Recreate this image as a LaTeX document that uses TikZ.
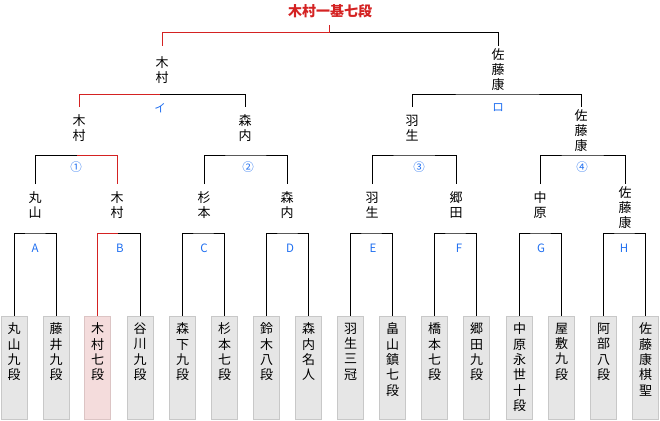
\documentclass[tikz,border=0pt]{standalone}
\usepackage{fontspec}
\newfontfamily\cjk{Noto Sans CJK JP}
\definecolor{wred}{HTML}{D42222}
\definecolor{wblue}{HTML}{1E6EF0}
\definecolor{boxfill}{HTML}{E6E6E6}
\definecolor{boxline}{HTML}{C8C8C8}
\definecolor{pinkfill}{HTML}{F4DCDC}
\definecolor{pinkline}{HTML}{DCC4C4}
\begin{document}
\begin{tikzpicture}[x=1pt,y=-1pt,line width=1pt,
  pbox/.style={draw=boxline,fill=boxfill,minimum width=26pt,minimum height=103pt,anchor=north,inner sep=0pt},
  pboxwin/.style={pbox,draw=pinkline,fill=pinkfill},
  ptext/.style={anchor=north,inner sep=0pt,font=\cjk\fontsize{13}{15.3}\selectfont,align=center},
  pname/.style={inner sep=0pt,font=\cjk\fontsize{13}{15}\selectfont,align=center},
  plab/.style={inner sep=0pt,text=wblue,font=\cjk\fontsize{11.5}{13}\selectfont},
  win/.style={draw=wred}]
\useasboundingbox (0,0) rectangle (660,420);

% ---- bottom player boxes
\node[pbox]    (b1)  at (14,315.5)  {};
\node[pbox]    (b2)  at (56,315.5)  {};
\node[pboxwin] (b3)  at (97.5,315.5) {};
\node[pbox]    (b4)  at (140,315.5) {};
\node[pbox]    (b5)  at (182.5,315.5) {};
\node[pbox]    (b6)  at (224.5,315.5) {};
\node[pbox]    (b7)  at (266.5,315.5) {};
\node[pbox]    (b8)  at (308.5,315.5) {};
\node[pbox]    (b9)  at (350.5,315.5) {};
\node[pbox]    (b10) at (392.5,315.5) {};
\node[pbox]    (b11) at (434.5,315.5) {};
\node[pbox]    (b12) at (476.5,315.5) {};
\node[pbox]    (b13) at (519.5,315.5) {};
\node[pbox]    (b14) at (561.5,315.5) {};
\node[pbox]    (b15) at (603.5,315.5) {};
\node[pbox]    (b16) at (645.5,315.5) {};

\node[ptext] (t1)  at ([yshift=-7pt]b1.north)  {丸\\山\\九\\段};
\node[ptext] (t2)  at ([yshift=-7pt]b2.north)  {藤\\井\\九\\段};
\node[ptext] (t3)  at ([yshift=-7pt]b3.north)  {木\\村\\七\\段};
\node[ptext] (t4)  at ([yshift=-7pt]b4.north)  {谷\\川\\九\\段};
\node[ptext] (t5)  at ([yshift=-7pt]b5.north)  {森\\下\\九\\段};
\node[ptext] (t6)  at ([yshift=-7pt]b6.north)  {杉\\本\\七\\段};
\node[ptext] (t7)  at ([yshift=-7pt]b7.north)  {鈴\\木\\八\\段};
\node[ptext] (t8)  at ([yshift=-7pt]b8.north)  {森\\内\\名\\人};
\node[ptext] (t9)  at ([yshift=-7pt]b9.north)  {羽\\生\\三\\冠};
\node[ptext] (t10) at ([yshift=-7pt]b10.north) {畠\\山\\鎮\\七\\段};
\node[ptext] (t11) at ([yshift=-7pt]b11.north) {橋\\本\\七\\段};
\node[ptext] (t12) at ([yshift=-7pt]b12.north) {郷\\田\\九\\段};
\node[ptext] (t13) at ([yshift=-7pt]b13.north) {中\\原\\永\\世\\十\\段};
\node[ptext] (t14) at ([yshift=-7pt]b14.north) {屋\\敷\\九\\段};
\node[ptext] (t15) at ([yshift=-7pt]b15.north) {阿\\部\\八\\段};
\node[ptext] (t16) at ([yshift=-7pt]b16.north) {佐\\藤\\康\\棋\\聖};

% ---- round 1 brackets
\coordinate (jA) at (35,233);
\coordinate (jB) at (118,233);
\coordinate (jC) at (203.5,233);
\coordinate (jD) at (287.5,233);
\coordinate (jE) at (371.5,233);
\coordinate (jF) at (455.5,233);
\coordinate (jG) at (540.5,233);
\coordinate (jH) at (624.5,233);
\draw (b1.north) |- (jA) -| (b2.north);
\draw[win] (b3.north) |- (jB);
\draw (jB) -| (b4.north);
\draw (b5.north) |- (jC) -| (b6.north);
\draw (b7.north) |- (jD) -| (b8.north);
\draw (b9.north) |- (jE) -| (b10.north);
\draw (b11.north) |- (jF) -| (b12.north);
\draw (b13.north) |- (jG) -| (b14.north);
\draw (b15.north) |- (jH) -| (b16.north);

\node[plab] (lA) at (35,248) {A};
\node[plab] (lB) at (120,248) {B};
\node[plab] (lC) at (204,248) {C};
\node[plab] (lD) at (290,248) {D};
\node[plab] (lE) at (373,248) {E};
\node[plab] (lF) at (459,248) {F};
\node[plab] (lG) at (541,248) {G};
\node[plab] (lH) at (624,248) {H};

% ---- round 2 names
\node[pname] (n1) at (35,205)  {丸\\山};
\node[pname] (n2) at (117,205) {木\\村};
\node[pname] (n3) at (204,205) {杉\\本};
\node[pname] (n4) at (287,205) {森\\内};
\node[pname] (n5) at (372,205) {羽\\生};
\node[pname] (n6) at (456,205) {郷\\田};
\node[pname] (n7) at (540,205) {中\\原};
\node[pname] (n8) at (625,208) {佐\\藤\\康};

\coordinate (k1) at (77,155);
\coordinate (k2) at (245.5,155);
\coordinate (k3) at (414,155);
\coordinate (k4) at (582.5,155);
\draw (n1 |- 0,184) |- (k1);
\draw[win] (k1) -| (n2 |- 0,184);
\draw (n3 |- 0,184) |- (k2) -| (n4 |- 0,184);
\draw (n5 |- 0,184) |- (k3) -| (n6 |- 0,184);
\draw (n7 |- 0,184) |- (k4) -| (n8 |- 0,184);

\node[plab] (l1) at (76,167)  {①};
\node[plab] (l2) at (248,167) {②};
\node[plab] (l3) at (419,167) {③};
\node[plab] (l4) at (582,167) {④};

% ---- round 3 names
\node[pname] (r1) at (79,128)  {木\\村};
\node[pname] (r2) at (245,128) {森\\内};
\node[pname] (r3) at (412,128) {羽\\生};
\node[pname] (r4) at (581,131) {佐\\藤\\康};

\coordinate (m1) at (160,94);
\coordinate (m2) at (498,94);
\draw[win] (r1 |- 0,107) |- (m1);
\draw (m1) -| (r2 |- 0,107);
\draw (r3 |- 0,107) |- (m2) -| (r4 |- 0,107);

\node[plab] (lI) at (160,108) {イ};
\node[plab] (lR) at (498,108) {ロ};

% ---- round 4 names
\node[pname] (f1) at (162,70) {木\\村};
\node[pname] (f2) at (498,70) {佐\\藤\\康};

\coordinate (top) at (329,33);
\coordinate (tt) at (329,25);
\draw[win] (f1 |- 0,46) |- (top);
\draw (top) -| (f2 |- 0,46);
\draw[win] (tt) -- (top);

\node[inner sep=0pt,text=wred,font=\cjk\bfseries\fontsize{14}{16}\selectfont] (title) at (330,11) {木村一基七段};
\end{tikzpicture}
\end{document}
